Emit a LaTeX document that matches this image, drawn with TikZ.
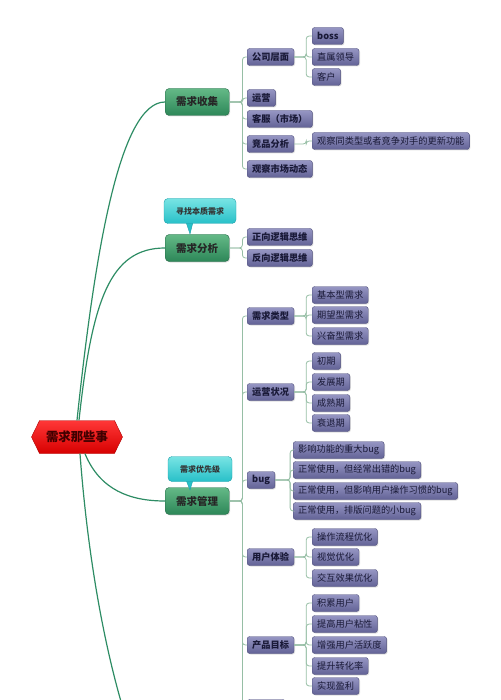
\documentclass[tikz,border=0pt]{standalone}
\usepackage{fontspec}
\newfontfamily\cjk{Noto Sans CJK SC}
\usetikzlibrary{shapes.symbols,shadows}
\definecolor{stem}{RGB}{45,140,100}
\definecolor{twig}{RGB}{150,190,165}
\definecolor{leaftop}{RGB}{150,150,195}
\definecolor{leafbot}{RGB}{98,98,150}
\definecolor{leafedge}{RGB}{80,80,125}
\definecolor{leaftext}{RGB}{25,25,55}
\definecolor{maintop}{RGB}{100,185,135}
\definecolor{mainbot}{RGB}{45,135,88}
\definecolor{mainedge}{RGB}{35,105,70}
\definecolor{tiptop}{RGB}{120,228,228}
\definecolor{tipbot}{RGB}{40,192,200}
\definecolor{tipedge}{RGB}{30,160,170}
\definecolor{roottop}{RGB}{255,55,55}
\definecolor{rootbot}{RGB}{215,0,0}

\newcommand\leaffont{\cjk\fontsize{9.2}{11}\selectfont}

\tikzset{
  leaf/.style={draw=leafedge, rounded corners=2.5pt, top color=leaftop,
    bottom color=leafbot, text=leaftext, font=\leaffont, inner xsep=5pt,
    inner ysep=0pt, minimum height=17pt, anchor=west,
    drop shadow={opacity=0.25, shadow xshift=1pt, shadow yshift=-1pt}},
  topic/.style={leaf, font=\leaffont\bfseries},
  mainbox/.style={draw=mainedge, rounded corners=4pt, top color=maintop,
    bottom color=mainbot, text=black!85, font=\cjk\bfseries\fontsize{10.5}{12}\selectfont,
    minimum width=64pt, minimum height=27pt, anchor=west,
    drop shadow={opacity=0.25, shadow xshift=1pt, shadow yshift=-1pt}},
  tipbox/.style={draw=tipedge, rounded corners=4pt, top color=tiptop,
    bottom color=tipbot, text=black!80, font=\cjk\bfseries\fontsize{8}{10}\selectfont,
    inner xsep=12pt, minimum height=25pt},
  twigline/.style={twig, line width=0.8pt, rounded corners=3pt},
  stemline/.style={stem, line width=1.2pt},
}

\begin{document}
\begin{tikzpicture}[x=1pt, y=-1pt]
\useasboundingbox (0,0) rectangle (500,700);
\clip (0,0) rectangle (500,700);

% ===== root =====
\node[shape=signal, signal to=west and east, signal pointer angle=128,
  draw=rootbot!80!black, top color=roottop, bottom color=rootbot,
  minimum width=91pt, minimum height=33pt, text=red!25!black,
  font=\cjk\bfseries\fontsize{12.4}{14}\selectfont] (root) at (77,437) {需求那些事};

% ===== main topics =====
\node[mainbox] (collect) at (165,102) {需求收集};
\node[mainbox] (analyse) at (165,248) {需求分析};
\node[mainbox] (manage)  at (165,501) {需求管理};

% callouts with tails
\filldraw[tipbot, draw=tipedge] (186,222) -- (193,222) -- (190,234) -- cycle;
\node[tipbox] (seek) at (200,211) {寻找本质需求};
\filldraw[tipbot, draw=tipedge] (186,480) -- (193,480) -- (190,490) -- cycle;
\node[tipbox] (prio) at (200,469) {需求优先级};

% root to topics
\draw[stemline] (root.north) .. controls (95,250) and (120,102) .. (collect.west);
\draw[stemline] ([xshift=2pt]root.north) .. controls (92,300) and (110,248) .. (analyse.west);
\draw[stemline] ([xshift=8pt]root.south) .. controls (100,490) and (130,501) .. (manage.west);
\draw[stemline] ([xshift=3pt]root.south) .. controls (88,560) and (105,650) .. (125,715);

% ===== 需求收集 =====
\node[topic] (company) at (247,57)  {公司层面};
\node[topic] (ops)     at (247,98)  {运营};
\node[topic] (service) at (247,119) {客服（市场）};
\node[topic] (rival)   at (247,144) {竞品分析};
\node[topic] (market)  at (247,169) {观察市场动态};

\node[topic] (boss)   at (312,36) {boss};
\node[leaf]  (lead)   at (312,57) {直属领导};
\node[leaf]  (client) at (312,77) {客户};
\node[leaf]  (watch)  at (312,141) {观察同类型或者竞争对手的更新功能};

\foreach \c in {company,ops,service,rival,market}
  \draw[twigline] (collect.east) -- ++(13,0) |- (\c.west);
\foreach \c in {boss,lead,client}
  \draw[twigline] (company.east) -- ++(12,0) |- (\c.west);
\draw[twigline] (rival.east) -- ++(12,0) |- (watch.west);

% ===== 需求分析 =====
\node[topic] (forward) at (247,237) {正向逻辑思维};
\node[topic] (reverse) at (247,258) {反向逻辑思维};
\foreach \c in {forward,reverse}
  \draw[twigline] (analyse.east) -- ++(13,0) |- (\c.west);

% ===== 需求管理 =====
\node[topic] (kind)  at (247,316) {需求类型};
\node[topic] (stage) at (247,392) {运营状况};
\node[topic] (bug)   at (247,480) {bug};
\node[topic] (ux)    at (247,557) {用户体验};
\node[topic] (goal)  at (247,645) {产品目标};
\node[topic, minimum width=38pt] (more) at (247,708) {};

\node[leaf] (basic)  at (312,295) {基本型需求};
\node[leaf] (expect) at (312,315) {期望型需求};
\node[leaf] (excite) at (312,336) {兴奋型需求};

\node[leaf] (early)   at (312,361) {初期};
\node[leaf] (grow)    at (312,382) {发展期};
\node[leaf] (mature)  at (312,403) {成熟期};
\node[leaf] (decline) at (312,423) {衰退期};

\node[leaf] (bugA) at (293,450) {影响功能的重大bug};
\node[leaf] (bugB) at (293,470) {正常使用，但经常出错的bug};
\node[leaf] (bugC) at (293,491) {正常使用，但影响用户操作习惯的bug};
\node[leaf] (bugD) at (293,511) {正常使用，排版问题的小bug};

\node[leaf] (flow)     at (312,537) {操作流程优化};
\node[leaf] (visual)   at (312,557) {视觉优化};
\node[leaf] (interact) at (312,578) {交互效果优化};

\node[leaf] (users)   at (312,603) {积累用户};
\node[leaf] (sticky)  at (312,624) {提高用户粘性};
\node[leaf] (active)  at (312,645) {增强用户活跃度};
\node[leaf] (convert) at (312,666) {提升转化率};
\node[leaf] (profit)  at (312,686) {实现盈利};

\foreach \c in {kind,stage,bug,ux,goal,more}
  \draw[twigline] (manage.east) -- ++(13,0) |- (\c.west);
\foreach \c in {basic,expect,excite}
  \draw[twigline] (kind.east) -- ++(12,0) |- (\c.west);
\foreach \c in {early,grow,mature,decline}
  \draw[twigline] (stage.east) -- ++(12,0) |- (\c.west);
\foreach \c in {bugA,bugB,bugC,bugD}
  \draw[twigline] (bug.east) -- ++(15,0) |- (\c.west);
\foreach \c in {flow,visual,interact}
  \draw[twigline] (ux.east) -- ++(12,0) |- (\c.west);
\foreach \c in {users,sticky,active,convert,profit}
  \draw[twigline] (goal.east) -- ++(12,0) |- (\c.west);

\end{tikzpicture}
\end{document}
